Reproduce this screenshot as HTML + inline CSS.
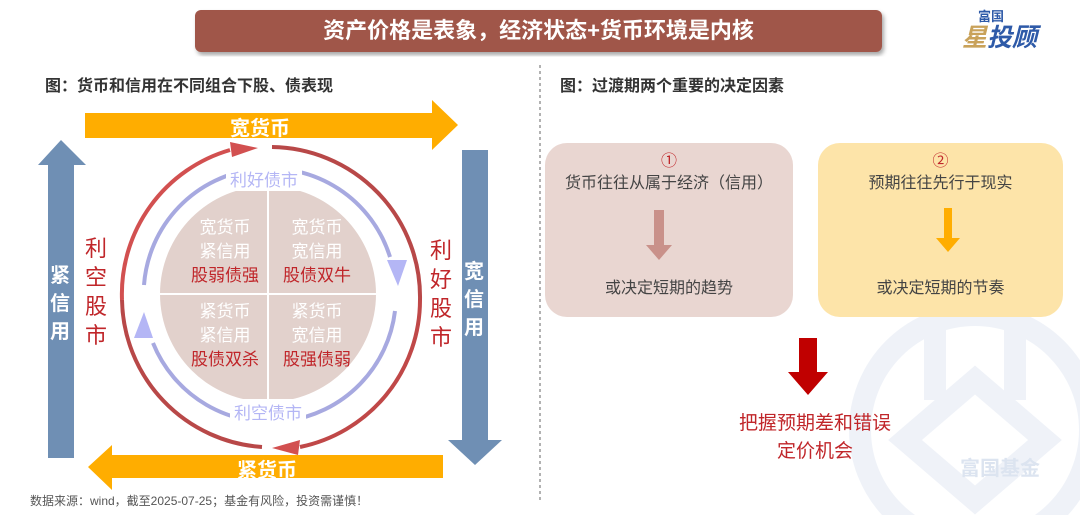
<!DOCTYPE html>
<html><head><meta charset="utf-8"><style>
body{margin:0;width:1080px;height:515px;background:#fff;overflow:hidden;font-family:"Liberation Sans","Noto Sans CJK SC",sans-serif;position:relative}
.a{position:absolute}
</style></head><body>
<svg class="a" style="left:0;top:0" width="1080" height="515">
<defs><filter id="sh"><feDropShadow dx="2" dy="3" stdDeviation="2" flood-opacity="0.35"/></filter></defs>
<g opacity="0.22" fill="none" stroke="#b8c8e2" stroke-width="22">
<circle cx="975" cy="430" r="115"/>
<path d="M935 330 L935 400 M1015 330 L1015 400 M905 440 L975 380 L1045 440 L975 500 Z"/>
</g>
<rect x="195" y="10" width="687" height="42" rx="6" fill="#a0574a" filter="url(#sh)"/>
<line x1="540" y1="65" x2="540" y2="500" stroke="#999" stroke-width="1.5" stroke-dasharray="3,3"/>
<polygon points="85,113 432,113 432,100 458,125 432,150 432,138 85,138" fill="#ffad00"/>
<polygon points="443,455 112,455 112,445 88,467 112,490 112,478 443,478" fill="#ffad00"/>
<polygon points="48,458 48,165 38,165 61,140 86,165 74,165 74,458" fill="#6f8fb4"/>
<polygon points="462,150 488,150 488,440 502,440 475,465 448,440 462,440" fill="#6f8fb4"/>
<circle cx="268" cy="294" r="108" fill="#e2d1cc"/>
<line x1="268" y1="186" x2="268" y2="402" stroke="#fff" stroke-width="2"/>
<line x1="160" y1="294" x2="376" y2="294" stroke="#fff" stroke-width="2"/>
<!-- blue ring -->
<path d="M144 285 A126 126 0 0 1 390 257" fill="none" stroke="#a7a9e0" stroke-width="4"/>
<polygon points="387,260 407,260 398,286" fill="#b4b6f5"/>
<path d="M395 311 A126 126 0 0 1 153 343" fill="none" stroke="#a7a9e0" stroke-width="4"/>
<polygon points="134,338 153,338 144,312" fill="#b4b6f5"/>
<!-- red ring -->
<path d="M122 300 A150 150 0 0 1 230 150" fill="none" stroke="#d25050" stroke-width="4"/>
<polygon points="230,142 258,148 232,157" fill="#d25050"/>
<path d="M272 147 A150 150 0 0 1 420 300" fill="none" stroke="#b84848" stroke-width="4"/>
<path d="M420 300 A150 150 0 0 1 300 447" fill="none" stroke="#c04848" stroke-width="4"/>
<polygon points="300,440 272,448 298,455" fill="#d25050"/>
<path d="M262 447 A150 150 0 0 1 122 300" fill="none" stroke="#b84848" stroke-width="4"/>
</svg>

<div class="a" style="left:195px;top:12px;width:687px;text-align:center;color:#fff;font-weight:bold;font-size:22px;line-height:38px">资产价格是表象，经济状态+货币环境是内核</div>
<div class="a" style="left:978px;top:6px;font-size:13px;color:#2e5aa8;font-weight:bold">富国</div>
<div class="a" style="left:962px;top:18px;font-size:25px;color:#2e5aa8;font-weight:bold;font-style:italic"><span style="color:#c9a25a">星</span>投顾</div>

<div class="a" style="left:45px;top:72px;font-size:16px;font-weight:bold;color:#333">图：货币和信用在不同组合下股、债表现</div>
<div class="a" style="left:560px;top:72px;font-size:16px;font-weight:bold;color:#333">图：过渡期两个重要的决定因素</div>

<div class="a" style="left:230px;top:112px;font-size:20px;font-weight:bold;color:#fff">宽货币</div>
<div class="a" style="left:237px;top:454px;font-size:20px;font-weight:bold;color:#fff">紧货币</div>
<div class="a" style="left:50px;top:262px;width:22px;font-size:20px;font-weight:bold;color:#fff;line-height:28px">紧信用</div>
<div class="a" style="left:464px;top:258px;width:22px;font-size:20px;font-weight:bold;color:#fff;line-height:28px">宽信用</div>
<div class="a" style="left:85px;top:234px;width:24px;font-size:22px;color:#c0262a;line-height:29px">利空股市</div>
<div class="a" style="left:430px;top:236px;width:24px;font-size:22px;color:#c0262a;line-height:29px">利好股市</div>
<div class="a" style="left:226px;top:166px;padding:0 4px;background:#fff;font-size:17px;color:#b4b6f5">利好债市</div>
<div class="a" style="left:230px;top:399px;padding:0 4px;background:#fff;font-size:17px;color:#b4b6f5">利空债市</div>

<div class="a" style="left:180px;top:216px;width:90px;text-align:center;font-size:17px;line-height:24px;color:#fff">宽货币<br>紧信用<br><span style="color:#c0262a">股弱债强</span></div>
<div class="a" style="left:272px;top:216px;width:90px;text-align:center;font-size:17px;line-height:24px;color:#fff">宽货币<br>宽信用<br><span style="color:#c0262a">股债双牛</span></div>
<div class="a" style="left:180px;top:300px;width:90px;text-align:center;font-size:17px;line-height:24px;color:#fff">紧货币<br>紧信用<br><span style="color:#c0262a">股债双杀</span></div>
<div class="a" style="left:272px;top:300px;width:90px;text-align:center;font-size:17px;line-height:24px;color:#fff">紧货币<br>宽信用<br><span style="color:#c0262a">股强债弱</span></div>

<div class="a" style="left:30px;top:492px;font-size:12px;color:#555">数据来源：wind，截至2025-07-25；基金有风险，投资需谨慎！</div>

<div class="a" style="left:545px;top:143px;width:248px;height:174px;border-radius:22px;background:#e9d6d1"></div>
<div class="a" style="left:818px;top:143px;width:245px;height:174px;border-radius:22px;background:#fde4a9"></div>
<div class="a" style="left:545px;top:147px;width:248px;text-align:center;font-size:16px;color:#c0262a">①</div>
<div class="a" style="left:545px;top:169px;width:248px;text-align:center;font-size:16px;color:#444">货币往往从属于经济（信用）</div>
<div class="a" style="left:545px;top:274px;width:248px;text-align:center;font-size:16px;color:#444">或决定短期的趋势</div>
<div class="a" style="left:818px;top:147px;width:245px;text-align:center;font-size:16px;color:#c0262a">②</div>
<div class="a" style="left:818px;top:169px;width:245px;text-align:center;font-size:16px;color:#444">预期往往先行于现实</div>
<div class="a" style="left:818px;top:274px;width:245px;text-align:center;font-size:16px;color:#444">或决定短期的节奏</div>
<svg class="a" style="left:0;top:0" width="1080" height="515">
<polygon points="654,210 664,210 664,245 672,245 659,260 646,245 654,245" fill="#c9918a"/>
<polygon points="944,208 952,208 952,238 960,238 948,252 936,238 944,238" fill="#ffad00"/>
<polygon points="799,338 817,338 817,372 828,372 808,395 788,372 799,372" fill="#c00000"/>
</svg>
<div class="a" style="left:700px;top:410px;width:230px;text-align:center;font-size:19px;color:#c0262a;line-height:28px">把握预期差和错误<br>定价机会</div>
<div class="a" style="left:960px;top:452px;font-size:20px;font-weight:bold;color:#dce4f0">富国基金</div>
</body></html>
